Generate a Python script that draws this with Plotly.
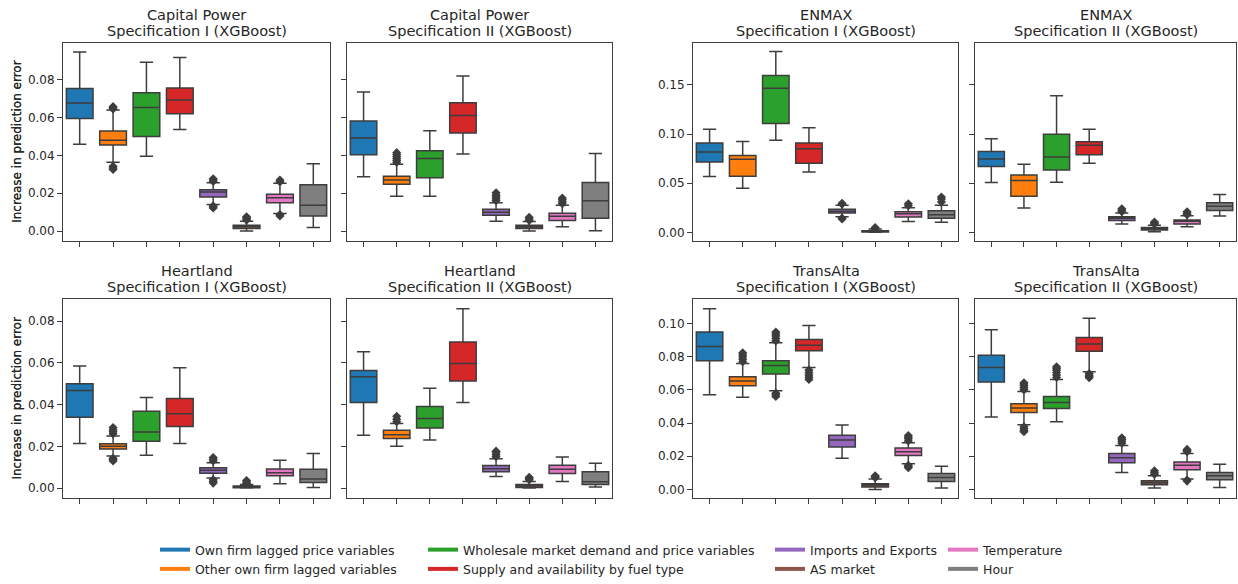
import plotly.graph_objects as go

# ---------------- data ----------------
CATEGORIES = [
    "Own firm lagged price variables",
    "Other own firm lagged variables",
    "Wholesale market demand and price variables",
    "Supply and availability by fuel type",
    "Imports and Exports",
    "AS market",
    "Temperature",
    "Hour",
]
COLORS = ["#1f77b4", "#ff7f0e", "#2ca02c", "#d62728",
          "#9467bd", "#8c564b", "#e377c2", "#7f7f7f"]

FIRMS = ["Capital Power", "Capital Power", "ENMAX", "ENMAX",
         "Heartland", "Heartland", "TransAlta", "TransAlta"]
SPECS = ["Specification I (XGBoost)", "Specification II (XGBoost)"] * 4

# box statistics per panel (panel order: CP I, CP II, ENMAX I, ENMAX II,
# Heartland I, Heartland II, TransAlta I, TransAlta II), category order as CATEGORIES
LOWER_WHISKER = [
    [0.0458, 0.0363, 0.0395, 0.0536, 0.0140, 0.0000, 0.0093, 0.0019],
    [0.0287, 0.0184, 0.0184, 0.0407, 0.0052, 0.0000, 0.0023, 0.0002],
    [0.0569, 0.0449, 0.0938, 0.0615, 0.0160, 0.0000, 0.0110, 0.0103],
    [0.0508, 0.0249, 0.0511, 0.0704, 0.0086, 0.0007, 0.0056, 0.0166],
    [0.0214, 0.0154, 0.0157, 0.0214, 0.0048, 0.0000, 0.0021, 0.0003],
    [0.0253, 0.0201, 0.0230, 0.0410, 0.0055, 0.0000, 0.0032, 0.0005],
    [0.0570, 0.0556, 0.0594, 0.0735, 0.0187, 0.0000, 0.0155, 0.0008],
    [0.0436, 0.0390, 0.0408, 0.0709, 0.0102, 0.0008, 0.0062, 0.0012],
]
Q1 = [
    [0.0594, 0.0454, 0.0500, 0.0620, 0.0180, 0.0014, 0.0150, 0.0080],
    [0.0403, 0.0247, 0.0282, 0.0518, 0.0083, 0.0014, 0.0056, 0.0068],
    [0.0715, 0.0572, 0.1107, 0.0702, 0.0196, 0.0003, 0.0156, 0.0143],
    [0.0670, 0.0368, 0.0634, 0.0790, 0.0120, 0.0023, 0.0086, 0.0222],
    [0.0340, 0.0187, 0.0225, 0.0295, 0.0071, 0.0002, 0.0059, 0.0027],
    [0.0410, 0.0238, 0.0288, 0.0513, 0.0078, 0.0003, 0.0070, 0.0017],
    [0.0775, 0.0625, 0.0695, 0.0835, 0.0255, 0.0014, 0.0205, 0.0048],
    [0.0647, 0.0464, 0.0488, 0.0833, 0.0161, 0.0028, 0.0118, 0.0058],
]
MEDIAN = [
    [0.0676, 0.0480, 0.0652, 0.0692, 0.0206, 0.0024, 0.0176, 0.0136],
    [0.0492, 0.0270, 0.0383, 0.0610, 0.0099, 0.0023, 0.0078, 0.0160],
    [0.0818, 0.0745, 0.1467, 0.0851, 0.0216, 0.0010, 0.0190, 0.0180],
    [0.0747, 0.0528, 0.0767, 0.0886, 0.0143, 0.0040, 0.0113, 0.0266],
    [0.0467, 0.0201, 0.0269, 0.0356, 0.0086, 0.0005, 0.0074, 0.0043],
    [0.0534, 0.0255, 0.0333, 0.0597, 0.0093, 0.0011, 0.0090, 0.0030],
    [0.0861, 0.0653, 0.0747, 0.0869, 0.0297, 0.0026, 0.0227, 0.0072],
    [0.0735, 0.0490, 0.0524, 0.0876, 0.0191, 0.0040, 0.0145, 0.0082],
]
Q3 = [
    [0.0753, 0.0528, 0.0730, 0.0755, 0.0218, 0.0031, 0.0194, 0.0245],
    [0.0581, 0.0290, 0.0424, 0.0677, 0.0115, 0.0031, 0.0094, 0.0257],
    [0.0908, 0.0781, 0.1596, 0.0908, 0.0236, 0.0017, 0.0210, 0.0220],
    [0.0823, 0.0584, 0.0999, 0.0923, 0.0159, 0.0050, 0.0126, 0.0302],
    [0.0500, 0.0212, 0.0368, 0.0429, 0.0097, 0.0010, 0.0092, 0.0090],
    [0.0564, 0.0277, 0.0391, 0.0700, 0.0108, 0.0017, 0.0109, 0.0078],
    [0.0948, 0.0679, 0.0775, 0.0904, 0.0327, 0.0034, 0.0249, 0.0096],
    [0.0809, 0.0516, 0.0560, 0.0916, 0.0217, 0.0052, 0.0165, 0.0102],
]
UPPER_WHISKER = [
    [0.0945, 0.0639, 0.0891, 0.0917, 0.0255, 0.0052, 0.0253, 0.0355],
    [0.0734, 0.0353, 0.0530, 0.0819, 0.0150, 0.0050, 0.0136, 0.0409],
    [0.1048, 0.0925, 0.1839, 0.1064, 0.0276, 0.0033, 0.0250, 0.0276],
    [0.0953, 0.0694, 0.1390, 0.1049, 0.0196, 0.0073, 0.0169, 0.0385],
    [0.0585, 0.0249, 0.0434, 0.0577, 0.0122, 0.0017, 0.0133, 0.0166],
    [0.0653, 0.0309, 0.0478, 0.0859, 0.0141, 0.0032, 0.0149, 0.0119],
    [0.1088, 0.0759, 0.0884, 0.0988, 0.0388, 0.0062, 0.0281, 0.0140],
    [0.0962, 0.0590, 0.0663, 0.1032, 0.0265, 0.0082, 0.0217, 0.0151],
]
OUTLIERS = [
    [[], [0.0645, 0.0651, 0.0657, 0.0342, 0.0333, 0.0325], [], [],
     [0.0262, 0.0269, 0.0276, 0.0133, 0.0127, 0.0122], [0.0058, 0.0064, 0.0070, 0.0075],
     [0.0260, 0.0270, 0.0087, 0.0080], []],
    [[], [0.0362, 0.0372, 0.0382, 0.0392, 0.0403, 0.0414], [], [],
     [0.0160, 0.0170, 0.0181, 0.0191, 0.0202], [0.0056, 0.0064, 0.0073],
     [0.0145, 0.0155, 0.0165, 0.0174], []],
    [[], [], [], [], [0.0286, 0.0296, 0.0145, 0.0136], [0.0040, 0.0050],
     [0.0270, 0.0290], [0.0310, 0.0340, 0.0360]],
    [[], [], [], [], [0.0210, 0.0225, 0.0240], [0.0085, 0.0095, 0.0106],
     [0.0180, 0.0195, 0.0210], []],
    [[], [0.0260, 0.0270, 0.0280, 0.0290, 0.0143, 0.0136, 0.0130], [], [],
     [0.0130, 0.0138, 0.0146, 0.0040, 0.0032, 0.0024], [0.0022, 0.0029, 0.0036], [], []],
    [[], [0.0318, 0.0330, 0.0344], [], [], [0.0150, 0.0160, 0.0170, 0.0177],
     [0.0040, 0.0046, 0.0052], [], []],
    [[], [0.0770, 0.0785, 0.0800, 0.0812, 0.0823],
     [0.0895, 0.0910, 0.0925, 0.0937, 0.0948, 0.0580, 0.0570, 0.0560],
     [0.0720, 0.0705, 0.0690, 0.0676, 0.0663], [], [0.0070, 0.0076, 0.0082],
     [0.0292, 0.0305, 0.0315, 0.0325, 0.0145, 0.0138, 0.0131], []],
    [[], [0.0600, 0.0612, 0.0625, 0.0635, 0.0643, 0.0378, 0.0365, 0.0355, 0.0347],
     [0.0675, 0.0690, 0.0705, 0.0720, 0.0730, 0.0739], [0.0698, 0.0688, 0.0680, 0.0673],
     [0.0278, 0.0290, 0.0301, 0.0311], [0.0092, 0.0102, 0.0112],
     [0.0227, 0.0235, 0.0241, 0.0056, 0.0050], []],
]

Y_RANGES = [[-0.0052, 0.0995], [-0.0052, 0.0995],
            [-0.0087, 0.193], [-0.0087, 0.193],
            [-0.0046, 0.0904], [-0.0046, 0.0904],
            [-0.0050, 0.1145], [-0.0050, 0.1145]]
Y_TICKS = [[0.00, 0.02, 0.04, 0.06, 0.08]] * 2 + \
          [[0.00, 0.05, 0.10, 0.15]] * 2 + \
          [[0.00, 0.02, 0.04, 0.06, 0.08]] * 2 + \
          [[0.00, 0.02, 0.04, 0.06, 0.08, 0.10]] * 2
Y_LABEL = "Increase in prediction error"

# ---------------- layout geometry (pixels) ----------------
W, H = 1238, 584
COL_PX = [(63, 330), (347, 612), (693, 958), (975, 1236)]
ROW_PX = [(43, 243), (302, 502)]
TITLE_LINES_PX = [(15, 31.5), (273.5, 289.5)]

FONT = "DejaVu Sans"
TXT = "#262626"
EDGE = "#3d3d3d"

fig = go.Figure()
layout = dict(
    width=W, height=H, margin=dict(l=0, r=0, t=0, b=0),
    paper_bgcolor="white", plot_bgcolor="white",
    font=dict(family=FONT, size=12, color=TXT),
    showlegend=True, boxmode="overlay",
)
annotations = []

for p in range(8):
    r, c = divmod(p, 4)
    ax = "" if p == 0 else str(p + 1)
    x0, x1 = COL_PX[c]
    y0, y1 = ROW_PX[r]
    first = (c % 2 == 0)
    layout["xaxis" + ax] = dict(
        domain=[x0 / W, x1 / W], range=[-0.5, 7.5], anchor="y" + ax,
        tickvals=list(range(8)), ticktext=[""] * 8, ticks="outside", ticklen=5,
        tickcolor=EDGE, showline=True, mirror=True, linecolor=EDGE, linewidth=1,
        showgrid=False, zeroline=False, fixedrange=True,
    )
    layout["yaxis" + ax] = dict(
        domain=[1 - y1 / H, 1 - y0 / H], range=Y_RANGES[p], anchor="x" + ax,
        tickvals=Y_TICKS[p], ticktext=[f"{v:.2f}" for v in Y_TICKS[p]],
        showticklabels=first, ticks="outside", ticklen=5, tickcolor=EDGE,
        tickfont=dict(size=12, color=TXT),
        showline=True, mirror=True, linecolor=EDGE, linewidth=1,
        showgrid=False, zeroline=False, fixedrange=True,
    )
    # titles
    xc = (x0 + x1) / 2 / W
    for line_text, ypx in zip([FIRMS[p], SPECS[p]], TITLE_LINES_PX[r]):
        annotations.append(dict(
            text=line_text, x=xc, y=1 - ypx / H, xref="paper", yref="paper",
            xanchor="center", yanchor="middle", showarrow=False,
            font=dict(family=FONT, size=14.5, color=TXT)))
    if first:
        annotations.append(dict(
            text=Y_LABEL, x=17 / W, y=1 - (y0 + y1) / 2 / H, xref="paper", yref="paper",
            xanchor="center", yanchor="middle", textangle=-90, showarrow=False,
            font=dict(family=FONT, size=12, color=TXT)))

    for k in range(8):
        fig.add_trace(go.Box(
            x=[k], q1=[Q1[p][k]], median=[MEDIAN[p][k]], q3=[Q3[p][k]],
            lowerfence=[LOWER_WHISKER[p][k]], upperfence=[UPPER_WHISKER[p][k]],
            width=0.8, whiskerwidth=0.5, fillcolor=COLORS[k],
            line=dict(color=EDGE, width=1.5), boxpoints=False,
            xaxis="x" + ax, yaxis="y" + ax, showlegend=False, hoverinfo="y",
        ))
        if OUTLIERS[p][k]:
            fig.add_trace(go.Scatter(
                x=[k] * len(OUTLIERS[p][k]), y=OUTLIERS[p][k], mode="markers",
                marker=dict(symbol="diamond", size=7, color=EDGE),
                xaxis="x" + ax, yaxis="y" + ax, showlegend=False, hoverinfo="y",
            ))

# ---------------- legend (4 columns x 2 rows, column-major like matplotlib) ----------------
LEGEND_X_PX = [155, 423, 770, 943]
legend_names = ["legend", "legend2", "legend3", "legend4"]
for col in range(4):
    for row in range(2):
        k = col * 2 + row
        fig.add_trace(go.Scatter(
            x=[None], y=[None], mode="lines", name=CATEGORIES[k],
            line=dict(color=COLORS[k], width=4),
            legend=legend_names[col], showlegend=True, xaxis="x", yaxis="y",
        ))
    layout[legend_names[col]] = dict(
        x=LEGEND_X_PX[col] / W, y=1 - 540 / H, xanchor="left", yanchor="top",
        orientation="v", bgcolor="rgba(0,0,0,0)", borderwidth=0,
        font=dict(family=FONT, size=12.5, color=TXT), tracegroupgap=0,
        itemwidth=30,
    )

layout["annotations"] = annotations
fig.update_layout(**layout)
fig.write_html("out.html")
